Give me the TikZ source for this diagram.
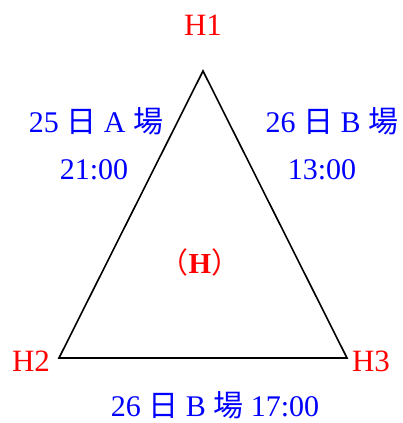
\documentclass[tikz,border=0pt]{standalone}
\usepackage{fontspec}
\setmainfont{Liberation Serif}
\newfontfamily\cjk{Noto Sans CJK TC}
\newcommand{\cri}{{\cjk 日}}
\newcommand{\cch}{{\cjk 場}}
\begin{document}
\begin{tikzpicture}[x=1pt,y=-1pt,
  vlabel/.style={text=red,font=\fontsize{31}{33}\selectfont,anchor=base,inner sep=0pt},
  tlabel/.style={text=blue,font=\fontsize{30}{32}\selectfont,anchor=base,inner sep=0pt},
  edge/.style={line width=1.6pt,line join=miter}]
\useasboundingbox (0,0) rectangle (403,423);
\coordinate (h1) at (203,71);
\coordinate (h2) at (59,358);
\coordinate (h3) at (347,358);
\draw[edge] (h1) -- (h2) -- (h3) -- cycle;
\node[vlabel] (l1) at (203,35) {H1};
\node[vlabel] (l2) at (31,371) {H2};
\node[vlabel] (l3) at (371,371) {H3};
\node[text=red,anchor=base,inner sep=0pt,font=\fontsize{29}{31}\selectfont] (lh) at (200,273) {{\cjk （}\textbf{H}{\cjk ）}};
\node[tlabel] (a1) at (96,132) {25 \cri{} A \cch};
\node[tlabel] (a2) at (94,179) {21:00};
\node[tlabel] (b1) at (332,132) {26 \cri{} B \cch};
\node[tlabel] (b2) at (322,179) {13:00};
\node[tlabel] (c1) at (215,416) {26 \cri{} B \cch{} 17:00};
\end{tikzpicture}
\end{document}
